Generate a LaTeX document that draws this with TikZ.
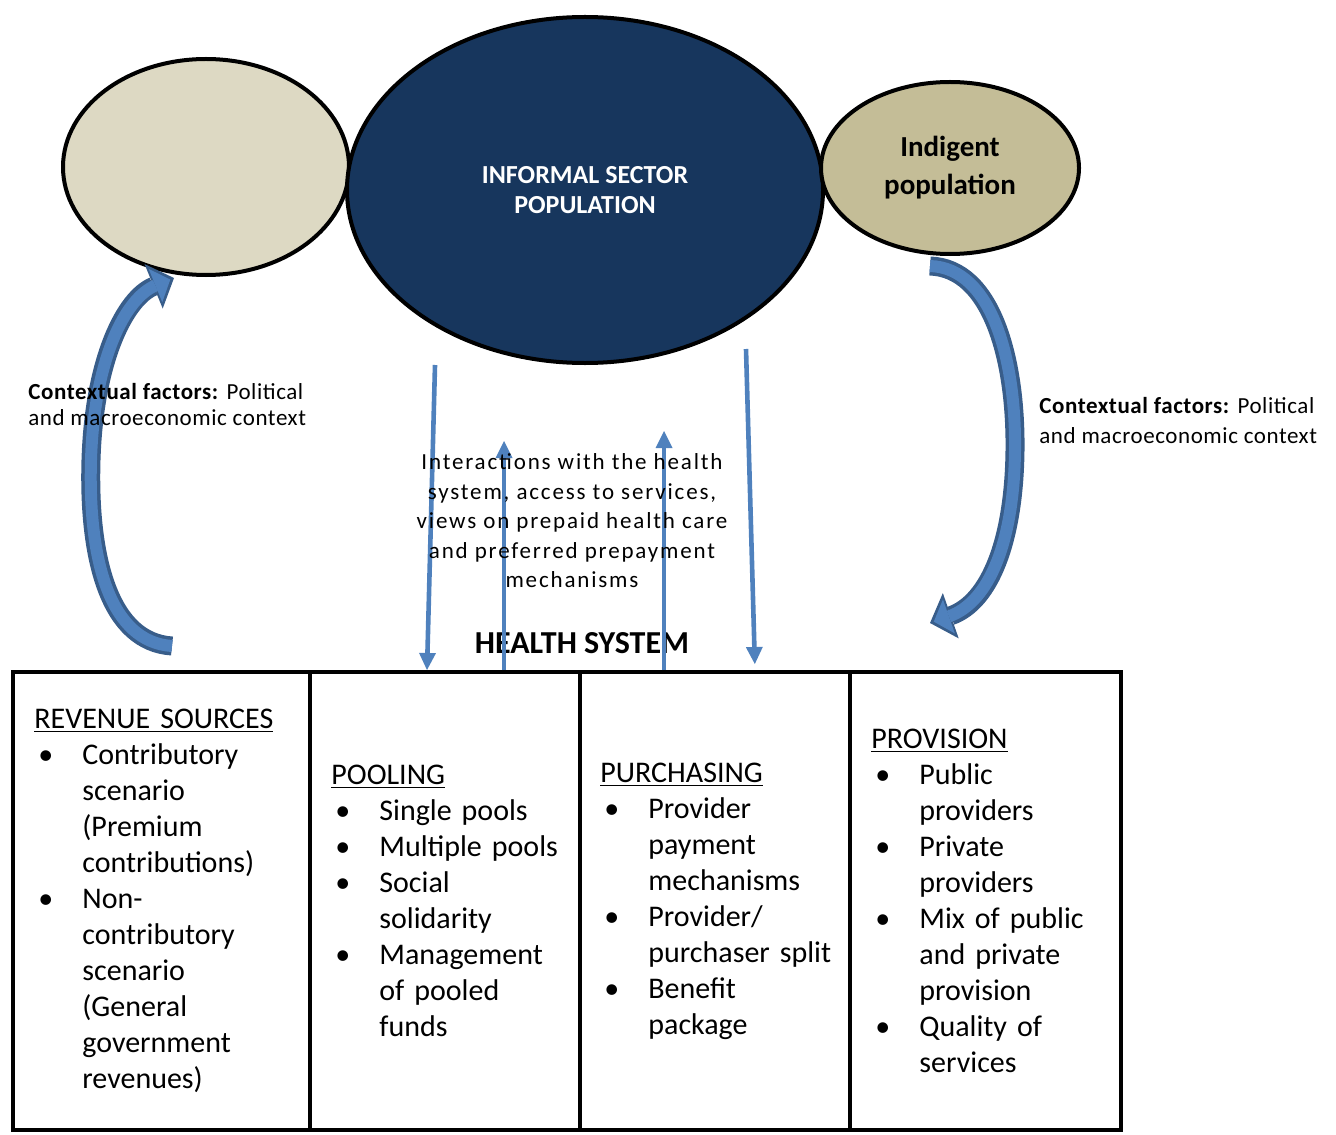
\documentclass[tikz,border=0pt]{standalone}
\usepackage{fontspec}
\setmainfont{Carlito}
\usepackage{tikz}
\usetikzlibrary{arrows.meta, shapes.geometric, positioning}
\definecolor{popfill}{HTML}{DDD9C3}
\definecolor{infill}{HTML}{17365D}
\definecolor{indfill}{HTML}{C4BD97}
\definecolor{arrfill}{HTML}{4F81BD}
\definecolor{arrline}{HTML}{385D8A}
\setlength{\parskip}{0pt}
\newcommand{\bul}[1]{\par\leftskip=24pt\noindent\llap{\makebox[24pt][l]{\hspace{2pt}\textbullet}}#1}
\newcommand{\hdg}[1]{\noindent\underline{#1}}
\tikzset{
  popblk/.style  = {ellipse, draw=black, line width=2pt, inner sep=0pt, align=center},
  cellblk/.style = {rectangle, draw=black, line width=2pt, minimum height=229pt, inner sep=0pt},
  celltxt/.style = {anchor=west, text width=150pt, inner sep=0pt, font=\fontsize{15}{18}\selectfont\raggedright},
  ctxt/.style    = {anchor=west, align=left, inner sep=0pt, font=\fontsize{11.5}{13}\selectfont\addfontfeature{LetterSpace=2.5}},
  flow/.style    = {-{Triangle[length=8.5pt, width=8.5pt, line width=0pt]}, line width=2.3pt, draw=arrfill},
  bigarr/.style  = {line width=6pt, draw=arrfill, shorten >=2pt,
                    -{Triangle[length=8pt, width=18pt, line width=0pt]},
                    preaction={draw=arrline, line width=9.5pt, shorten >=0pt,
                    -{Triangle[length=11pt, width=24pt, line width=0pt]}}},
}

\begin{document}
\begin{tikzpicture}[x=0.5pt, y=-0.5pt]
\useasboundingbox (0,0) rectangle (1336,1134);
% populations
\node[popblk, fill=popfill, minimum width=143pt, minimum height=108pt] (popl) at (206,167) {};
\node[popblk, fill=infill, text=white, minimum width=238pt, minimum height=173pt,
      font=\bfseries\fontsize{13}{15}\selectfont] (infsec) at (585,190) {INFORMAL SECTOR\\POPULATION};
\node[popblk, fill=indfill, minimum width=129pt, minimum height=86pt,
      font=\bfseries\fontsize{14.5}{19}\selectfont] (indig) at (950,168) {Indigent\\population};

% health system functions
\node[cellblk, minimum width=148.5pt] (rev) at (161.5,901) {};
\node[cellblk, minimum width=135pt] (pool) at (445,901) {};
\node[cellblk, minimum width=135pt] (purch) at (715,901) {};
\node[cellblk, minimum width=135.5pt] (prov) at (985.5,901) {};

\node[celltxt, right=11.5pt of rev.west] (revtxt) {\hdg{REVENUE SOURCES}
  \bul{Contributory\\scenario\\(Premium\\contributions)}
  \bul{Non-\\contributory\\scenario\\(General\\government\\revenues)}\par};
\node[celltxt, right=11.5pt of pool.west] (pooltxt) {\hdg{POOLING}
  \bul{Single pools}
  \bul{Multiple pools}
  \bul{Social\\solidarity}
  \bul{Management\\of pooled\\funds}\par};
\node[celltxt, right=11pt of purch.west] (purchtxt) {\hdg{PURCHASING}
  \bul{Provider\\payment\\mechanisms}
  \bul{Provider/\\purchaser split}
  \bul{Benefit\\package}\par};
\node[celltxt, right=11.5pt of prov.west] (provtxt) {\hdg{PROVISION}
  \bul{Public\\providers}
  \bul{Private\\providers}
  \bul{Mix of public\\and private\\provision}
  \bul{Quality of\\services}\par};

\node[font=\bfseries\fontsize{16}{18}\selectfont] (hsys) at (582,643) {HEALTH SYSTEM};

% interactions
\coordinate (d1t) at (435,365);
\coordinate (d1b) at (427,0);
\coordinate (u1) at (504,441);
\coordinate (u2) at (664,431);
\coordinate (d2t) at (746,349);
\coordinate (d2b) at (755,0);
\draw[flow] (d1t) -- (pool.north -| d1b);
\draw[flow] (pool.north -| u1) -- (u1);
\draw[flow] (purch.north -| u2) -- (u2);
\draw[flow, shorten >=3pt] (d2t) -- (purch.north -| d2b);

\node[align=center, font=\fontsize{11.5}{14.75}\selectfont\addfontfeature{LetterSpace=8}] (interact) at (572,521)
  {Interactions with the health\\system, access to services,\\views on prepaid health care\\and preferred prepayment\\mechanisms};

% contextual factors
\coordinate (lt) at (172,646);
\coordinate (lh) at (174,278);
\coordinate (rt) at (930,266);
\coordinate (rh) at (930,623);
\draw[bigarr] (lt) .. controls (110,642) and (88,560) .. (91,460) .. controls (94,360) and (125,298) .. (lh);
\draw[bigarr] (rt) .. controls (992,268) and (1016,360) .. (1015,450) .. controls (1014,540) and (990,602) .. (rh);

\node[ctxt] (ctxl) at (28,405) {\textbf{Contextual factors:} Political\\and macroeconomic context};
\node[ctxt, font=\fontsize{11.5}{15}\selectfont\addfontfeature{LetterSpace=2.5}] (ctxr) at (1039,421) {\textbf{Contextual factors:} Political\\and macroeconomic context};
\end{tikzpicture}
\end{document}
